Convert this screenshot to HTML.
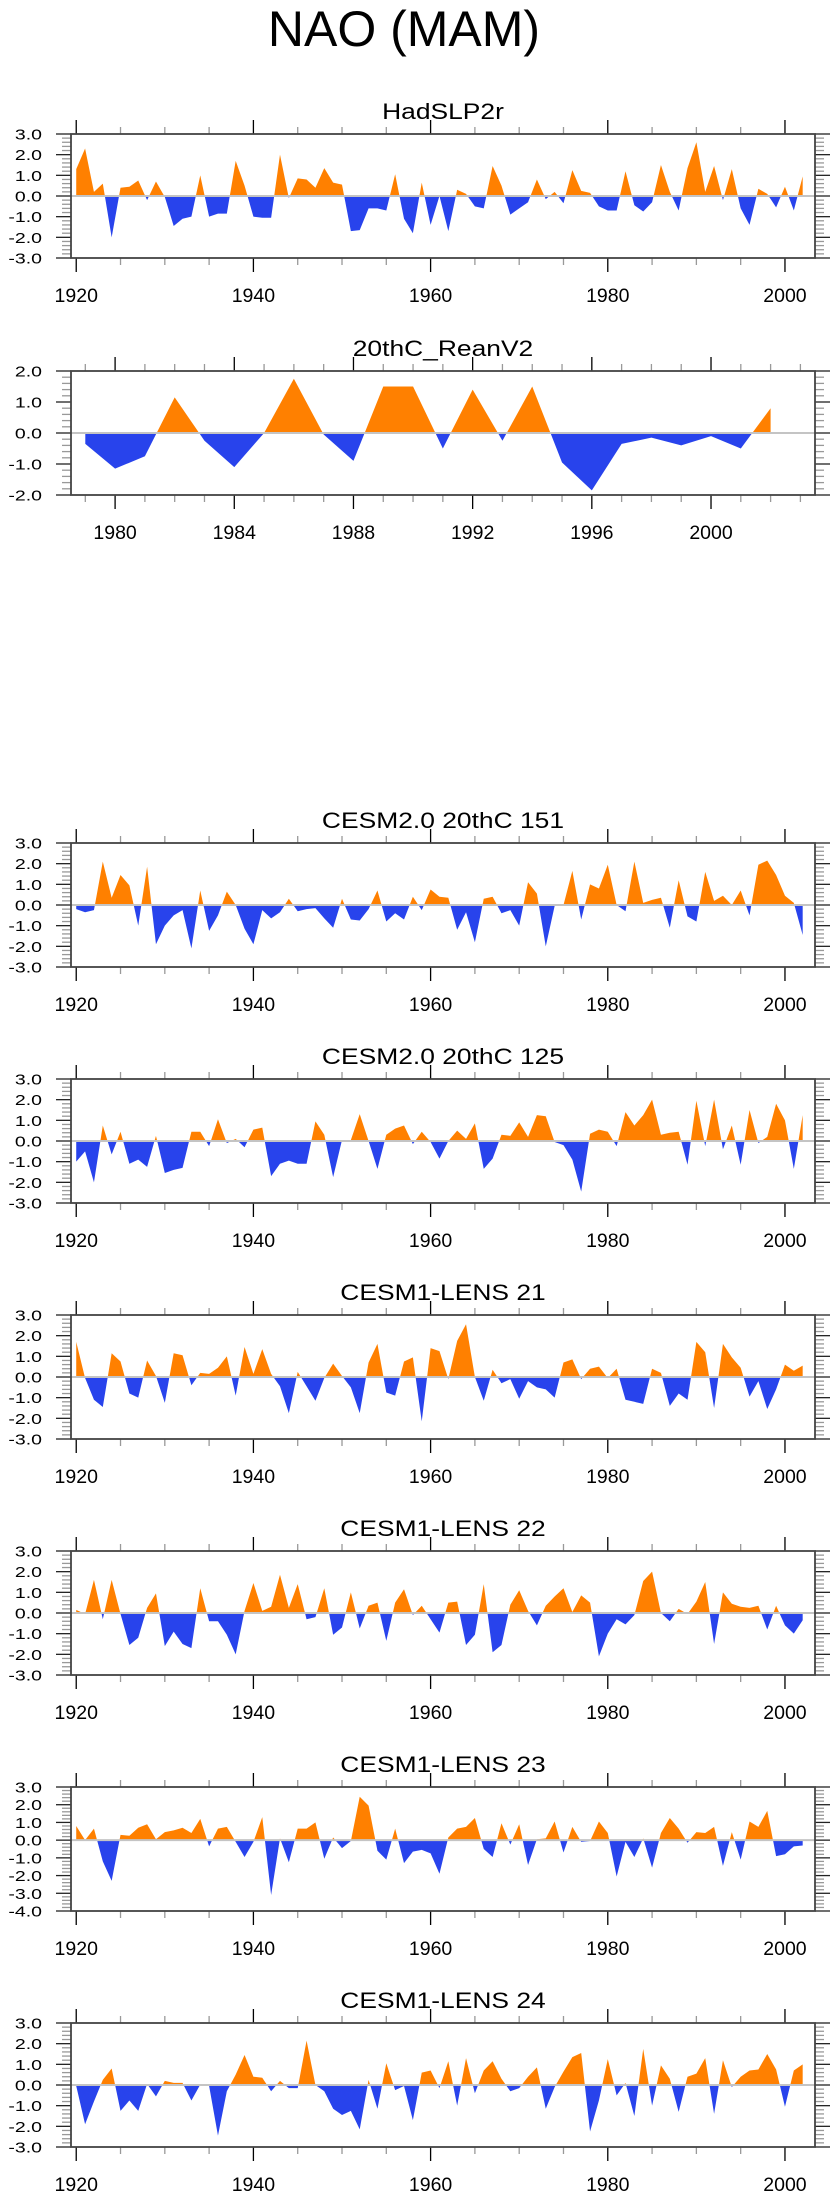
<!DOCTYPE html>
<html><head><meta charset="utf-8"><title>NAO (MAM)</title>
<style>html,body{margin:0;padding:0;background:#fff}svg{display:block}</style></head>
<body>
<svg id="chart" xmlns="http://www.w3.org/2000/svg" width="840" height="2200" viewBox="0 0 840 2200">
<rect x="0" y="0" width="840" height="2200" fill="#fff"/>
<text id="main-title" x="404" y="46" text-anchor="middle" font-family="Liberation Sans, sans-serif" font-size="50" fill="#000">NAO (MAM)</text>
</svg>
<script>
// ---- data ----
const yearsStart = 1920;
const hadslp2r = [1.3,2.3,0.2,0.6,-2.0,0.4,0.45,0.75,-0.2,0.7,
 -0.05,-1.45,-1.1,-1.0,1.0,-1.0,-0.85,-0.85,1.7,0.5,
 -1.0,-1.05,-1.05,2.0,-0.1,0.85,0.8,0.4,1.35,0.65,
 0.55,-1.7,-1.65,-0.6,-0.6,-0.7,1.05,-1.1,-1.8,0.65,
 -1.4,0.0,-1.7,0.3,0.1,-0.5,-0.6,1.45,0.5,-0.9,
 -0.6,-0.3,0.8,-0.15,0.2,-0.35,1.25,0.25,0.15,-0.5,
 -0.7,-0.7,1.2,-0.45,-0.75,-0.3,1.5,0.2,-0.7,1.35,
 2.6,0.2,1.45,-0.2,1.3,-0.6,-1.4,0.35,0.1,-0.55,
 0.45,-0.7,0.95];
const reanStart = 1979;
const rean20c = [-0.35,-1.15,-0.75,1.15,-0.25,-1.1,0.0,1.75,-0.05,-0.9,1.5,1.5,-0.5,1.4,-0.25,1.5,-0.95,-1.85,-0.35,-0.15,-0.4,-0.1,-0.5,0.8];
const cesm2_151 = [-0.2,-0.35,-0.25,2.1,0.35,1.45,0.95,-1.0,1.85,-1.9,
 -1.0,-0.5,-0.25,-2.1,0.7,-1.25,-0.5,0.65,0.0,-1.15,
 -1.9,-0.25,-0.65,-0.35,0.3,-0.3,-0.2,-0.15,-0.65,-1.1,
 0.3,-0.7,-0.75,-0.2,0.7,-0.8,-0.4,-0.7,0.4,-0.25,
 0.75,0.4,0.35,-1.2,-0.35,-1.8,0.3,0.4,-0.4,-0.25,
 -1.0,1.1,0.55,-2.0,-0.05,0.0,1.65,-0.7,1.0,0.8,
 1.95,0.0,-0.3,2.1,0.1,0.25,0.35,-1.1,1.2,-0.55,
 -0.8,1.6,0.2,0.45,0.0,0.7,-0.5,1.95,2.15,1.45,
 0.45,0.1,-1.45];
const cesm2_125 = [-1.0,-0.5,-2.0,0.75,-0.65,0.45,-1.1,-0.9,-1.25,0.25,
 -1.55,-1.4,-1.3,0.45,0.45,-0.25,1.05,-0.1,0.1,-0.3,
 0.55,0.65,-1.7,-1.1,-0.95,-1.1,-1.1,0.95,0.3,-1.75,
 0.05,0.05,1.3,0.0,-1.35,0.3,0.6,0.75,-0.15,0.45,
 -0.05,-0.85,0.0,0.5,0.1,0.85,-1.35,-0.85,0.3,0.25,
 0.9,0.2,1.25,1.2,-0.05,-0.2,-0.9,-2.45,0.35,0.55,
 0.45,-0.25,1.4,0.75,1.25,2.0,0.3,0.4,0.45,-1.15,
 1.95,-0.25,2.0,-0.4,0.75,-1.15,1.5,-0.1,0.2,1.8,
 1.0,-1.35,1.25];
const lens21 = [1.7,-0.05,-1.1,-1.45,1.15,0.75,-0.8,-1.0,0.8,0.05,
 -1.25,1.15,1.05,-0.4,0.2,0.15,0.45,1.0,-0.9,1.45,
 0.15,1.35,0.15,-0.45,-1.75,0.25,-0.45,-1.15,-0.05,0.65,
 0.05,-0.5,-1.75,0.7,1.6,-0.75,-0.9,0.75,0.95,-2.15,
 1.4,1.25,-0.1,1.75,2.55,0.0,-1.15,0.35,-0.3,-0.1,
 -1.05,-0.2,-0.5,-0.6,-1.0,0.7,0.85,-0.1,0.4,0.5,
 -0.05,0.4,-1.1,-1.2,-1.3,0.4,0.2,-1.4,-0.8,-1.1,
 1.7,1.2,-1.5,1.6,0.95,0.45,-0.95,-0.2,-1.55,-0.6,
 0.6,0.3,0.55];
const lens22 = [0.15,-0.05,1.6,-0.3,1.6,-0.05,-1.55,-1.2,0.25,0.95,
 -1.6,-0.9,-1.5,-1.7,1.2,-0.4,-0.4,-1.05,-2.0,0.1,
 1.45,0.1,0.3,1.85,0.25,1.4,-0.3,-0.2,1.2,-1.05,
 -0.7,1.0,-0.75,0.35,0.5,-1.35,0.5,1.15,-0.1,0.35,
 -0.3,-0.95,0.5,0.55,-1.55,-1.05,1.4,-1.9,-1.55,0.4,
 1.1,0.1,-0.6,0.35,0.8,1.2,0.05,0.85,0.5,-2.1,
 -1.0,-0.3,-0.55,-0.1,1.55,2.0,0.0,-0.4,0.2,-0.05,
 0.55,1.5,-1.5,1.0,0.45,0.3,0.25,0.35,-0.8,0.35,
 -0.6,-1.0,-0.35];
const lens23 = [0.8,0.0,0.65,-1.2,-2.3,0.3,0.25,0.7,0.9,0.05,
 0.45,0.55,0.7,0.4,1.2,-0.35,0.65,0.75,-0.1,-0.95,
 -0.1,1.3,-3.1,0.1,-1.25,0.65,0.65,1.0,-1.05,0.15,
 -0.45,-0.05,2.45,1.95,-0.6,-1.1,0.65,-1.3,-0.65,-0.55,
 -0.75,-1.9,0.15,0.65,0.75,1.25,-0.5,-0.95,0.95,-0.25,
 0.9,-1.4,0.05,0.1,1.05,-0.7,0.75,-0.1,-0.05,1.05,
 0.4,-2.05,-0.1,-0.95,0.1,-1.55,0.4,1.25,0.65,-0.15,
 0.45,0.4,0.75,-1.45,0.45,-1.1,1.05,0.75,1.65,-0.9,
 -0.8,-0.35,-0.3];
const lens24 = [-0.05,-1.9,-0.8,0.25,0.8,-1.25,-0.75,-1.25,0.05,-0.55,
 0.2,0.1,0.1,-0.75,0.02,-0.05,-2.45,-0.3,0.5,1.45,
 0.4,0.35,-0.3,0.2,-0.15,-0.15,2.15,0.0,-0.3,-1.15,
 -1.45,-1.25,-2.15,0.25,-1.15,1.05,-0.25,-0.05,-1.7,0.6,
 0.7,-0.15,1.15,-1.0,1.3,-0.4,0.7,1.15,0.3,-0.3,
 -0.15,0.4,0.85,-1.15,-0.1,0.65,1.35,1.55,-2.25,-0.75,
 1.25,-0.5,0.1,-1.5,1.75,-1.0,0.95,0.3,-1.3,0.4,
 0.55,1.3,-1.4,1.2,-0.1,0.4,0.7,0.75,1.5,0.75,
 -1.05,0.7,1.0];
const panelTitles = ["HadSLP2r","20thC_ReanV2","CESM2.0 20thC 151","CESM2.0 20thC 125","CESM1-LENS 21","CESM1-LENS 22","CESM1-LENS 23","CESM1-LENS 24"];
const longXTicks = [1920,1940,1960,1980,2000];
const shortXTicks = [1980,1984,1988,1992,1996,2000];
const yTicks3 = [3,2,1,0,-1,-2,-3];
const yTicks2 = [2,1,0,-1,-2];
const yTicks4 = [3,2,1,0,-1,-2,-3,-4];

// ---- drawing ----
const NS = "http://www.w3.org/2000/svg";
const svg = document.getElementById('chart');
const BOXL = 71, BOXR = 815, BOXH = 124;
const ORANGE = "#ff8000", BLUE = "#2843ec";
function el(tag, attrs, parent) {
  const e = document.createElementNS(NS, tag);
  for (const k in attrs) e.setAttribute(k, attrs[k]);
  (parent || svg).appendChild(e);
  return e;
}
function stretchText(t, f) {
  const w = t.getComputedTextLength();
  t.setAttribute('textLength', (w * f).toFixed(1));
  t.setAttribute('lengthAdjust', 'spacingAndGlyphs');
}
function drawPanel(idx, top, data, start, xmin, xmax, xMaj, xMinStep, xMinFrom, xMinTo, yTicks, slug) {
  const g = el('g', {});
  
  
  const ymax = yTicks[0], ymin = yTicks[yTicks.length - 1];
  const bottom = top + BOXH;
  const X = v => BOXL + (v - xmin) / (xmax - xmin) * (BOXR - BOXL);
  const Y = v => top + (ymax - v) / (ymax - ymin) * BOXH;
  // title
  const t = el('text', {x: (BOXL + BOXR) / 2, y: top - 15, 'text-anchor': 'middle', 'font-family': 'Liberation Sans, sans-serif', 'font-size': 22, fill: '#000'}, g);
  t.textContent = panelTitles[idx];
  
  
  stretchText(t, 1.2);
  // fills: insert zero crossings
  const pts = [];
  for (let i = 0; i < data.length; i++) {
    const yr = start + i, v = data[i];
    if (i > 0) {
      const pv = data[i - 1];
      if ((pv > 0 && v < 0) || (pv < 0 && v > 0)) {
        const f = pv / (pv - v);
        pts.push([yr - 1 + f, 0]);
      }
    }
    pts.push([yr, v]);
  }
  const x0 = pts[0][0], x1 = pts[pts.length - 1][0];
  let dPos = `M${X(x0)},${Y(0)}`, dNeg = `M${X(x0)},${Y(0)}`;
  pts.forEach(p => {
    dPos += `L${X(p[0]).toFixed(2)},${Y(Math.max(p[1], 0)).toFixed(2)}`;
    dNeg += `L${X(p[0]).toFixed(2)},${Y(Math.min(p[1], 0)).toFixed(2)}`;
  });
  dPos += `L${X(x1)},${Y(0)}Z`; dNeg += `L${X(x1)},${Y(0)}Z`;
  const pp = el('path', {d: dPos, fill: ORANGE}, g);
  
  
  const pn = el('path', {d: dNeg, fill: BLUE}, g);
  
  
  // zero line
  const zl = el('line', {x1: BOXL, x2: BOXR, y1: Y(0), y2: Y(0), stroke: '#c4c4c4', 'stroke-width': 2}, g);
  
  
  // y minor/major ticks
  for (let k = 0; k <= Math.round((ymax - ymin) / 0.2); k++) {
    const v = ymin + k * 0.2;
    const major = Math.abs(v - Math.round(v)) < 1e-6;
    const len = major ? 15 : 9;
    const col = major ? '#222' : '#999';
    el('line', {x1: BOXL - len, x2: BOXL, y1: Y(v), y2: Y(v), stroke: col, 'stroke-width': 1.3}, g);
    el('line', {x1: BOXR, x2: BOXR + len, y1: Y(v), y2: Y(v), stroke: col, 'stroke-width': 1.3}, g);
  }
  yTicks.forEach(v => {
    const lt = el('text', {x: 42, y: Y(v) + 5.5, 'text-anchor': 'end', 'font-family': 'Liberation Sans, sans-serif', 'font-size': 15, fill: '#000'}, g);
    lt.textContent = v.toFixed(1);
    
    
    stretchText(lt, 1.3);
  });
  // x ticks
  for (let yr = xMinFrom; yr <= xMinTo; yr += xMinStep) {
    if (xMaj.includes(yr)) continue;
    el('line', {x1: X(yr), x2: X(yr), y1: top - 7, y2: top, stroke: '#999', 'stroke-width': 1.3}, g);
    el('line', {x1: X(yr), x2: X(yr), y1: bottom, y2: bottom + 7, stroke: '#999', 'stroke-width': 1.3}, g);
  }
  xMaj.forEach(yr => {
    el('line', {x1: X(yr), x2: X(yr), y1: top - 14, y2: top, stroke: '#000', 'stroke-width': 1.3}, g);
    el('line', {x1: X(yr), x2: X(yr), y1: bottom, y2: bottom + 14, stroke: '#000', 'stroke-width': 1.3}, g);
    const xt = el('text', {x: X(yr), y: bottom + 44, 'text-anchor': 'middle', 'font-family': 'Liberation Sans, sans-serif', 'font-size': 19.5, fill: '#000'}, g);
    xt.textContent = yr;
    
    
  });
  // box
  const bx = el('rect', {x: BOXL, y: top, width: BOXR - BOXL, height: BOXH, fill: 'none', stroke: '#444', 'stroke-width': 1.8}, g);
  
  
}
drawPanel(0, 134, hadslp2r, yearsStart, 1919.41, 2003.39, longXTicks, 5, 1920, 2000, yTicks3, 'hadslp2r');
drawPanel(1, 371, rean20c, reanStart, 1978.52, 2003.49, shortXTicks, 1, 1979, 2003, yTicks2, 'reanv2');
drawPanel(2, 843, cesm2_151, yearsStart, 1919.41, 2003.39, longXTicks, 5, 1920, 2000, yTicks3, 'cesm2-151');
drawPanel(3, 1079, cesm2_125, yearsStart, 1919.41, 2003.39, longXTicks, 5, 1920, 2000, yTicks3, 'cesm2-125');
drawPanel(4, 1315, lens21, yearsStart, 1919.41, 2003.39, longXTicks, 5, 1920, 2000, yTicks3, 'lens-21');
drawPanel(5, 1551, lens22, yearsStart, 1919.41, 2003.39, longXTicks, 5, 1920, 2000, yTicks3, 'lens-22');
drawPanel(6, 1787, lens23, yearsStart, 1919.41, 2003.39, longXTicks, 5, 1920, 2000, yTicks4, 'lens-23');
drawPanel(7, 2023, lens24, yearsStart, 1919.41, 2003.39, longXTicks, 5, 1920, 2000, yTicks3, 'lens-24');
</script>
</body></html>
